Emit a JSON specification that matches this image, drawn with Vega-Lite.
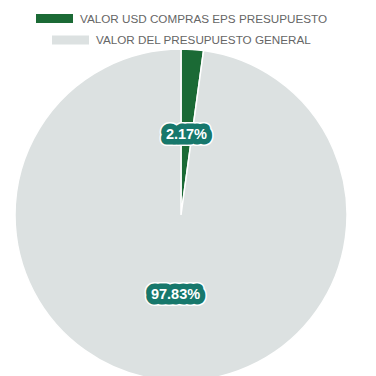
{
  "$schema": "https://vega.github.io/schema/vega-lite/v6.json",
  "autosize": "none",
  "width": 362,
  "height": 322,
  "padding": {"top": 54, "left": 0, "right": 14, "bottom": 0},
  "background": "white",
  "config": {
    "view": {"stroke": null},
    "legend": {
      "title": null,
      "padding": 0,
      "symbolType": "M-1,-0.24H1V0.24H-1Z",
      "symbolSize": 1369,
      "symbolStrokeWidth": 0,
      "symbolOpacity": 1,
      "labelOffset": 7,
      "labelFont": "Liberation Sans",
      "labelFontSize": 11.7,
      "labelColor": "#666666",
      "labelLimit": 400
    }
  },
  "data": {
    "values": [
      {"categoria": "VALOR USD COMPRAS EPS PRESUPUESTO", "valor": 0.0217, "orden": 1},
      {"categoria": "VALOR DEL PRESUPUESTO GENERAL", "valor": 0.9783, "orden": 2}
    ]
  },
  "layer": [
    {
      "mark": {"type": "arc", "outerRadius": 166, "stroke": "white", "strokeWidth": 1.5},
      "encoding": {
        "theta": {"field": "valor", "type": "quantitative", "stack": true},
        "order": {"field": "orden", "type": "quantitative"},
        "color": {
          "field": "categoria", "type": "nominal",
          "scale": {"domain": ["VALOR USD COMPRAS EPS PRESUPUESTO", "VALOR DEL PRESUPUESTO GENERAL"], "range": ["#1b6a35", "#dce1e1"]},
          "legend": {"values": ["VALOR USD COMPRAS EPS PRESUPUESTO"], "orient": "none", "legendX": 36, "legendY": -54}
        }
      }
    },
    {
      "mark": {"type": "arc", "outerRadius": 166, "stroke": "white", "strokeWidth": 1.5},
      "encoding": {
        "theta": {"field": "valor", "type": "quantitative", "stack": true},
        "order": {"field": "orden", "type": "quantitative"},
        "color": {
          "field": "categoria", "type": "nominal",
          "scale": {"domain": ["VALOR USD COMPRAS EPS PRESUPUESTO", "VALOR DEL PRESUPUESTO GENERAL"], "range": ["#1b6a35", "#dce1e1"]},
          "legend": {"values": ["VALOR DEL PRESUPUESTO GENERAL"], "orient": "none", "legendX": 52, "legendY": -32.5}
        }
      }
    },
    {
      "mark": {"type": "text", "radius": 80, "font": "Liberation Sans", "fontWeight": "bold", "fontSize": 14.5, "fill": "white", "stroke": "white", "strokeWidth": 14, "strokeJoin": "round", "baseline": "middle", "align": "center"},
      "encoding": {
        "theta": {"field": "valor", "type": "quantitative", "stack": true},
        "order": {"field": "orden", "type": "quantitative"},
        "text": {"field": "valor", "type": "quantitative", "format": ".2%"}
      }
    },
    {
      "mark": {"type": "text", "radius": 80, "font": "Liberation Sans", "fontWeight": "bold", "fontSize": 14.5, "fill": "#17786c", "stroke": "#17786c", "strokeWidth": 11, "strokeJoin": "round", "baseline": "middle", "align": "center"},
      "encoding": {
        "theta": {"field": "valor", "type": "quantitative", "stack": true},
        "order": {"field": "orden", "type": "quantitative"},
        "text": {"field": "valor", "type": "quantitative", "format": ".2%"}
      }
    },
    {
      "mark": {"type": "text", "radius": 80, "font": "Liberation Sans", "fontWeight": "bold", "fontSize": 14.5, "fill": "white", "baseline": "middle", "align": "center"},
      "encoding": {
        "theta": {"field": "valor", "type": "quantitative", "stack": true},
        "order": {"field": "orden", "type": "quantitative"},
        "text": {"field": "valor", "type": "quantitative", "format": ".2%"}
      }
    }
  ],
  "resolve": {"scale": {"color": "independent"}, "legend": {"color": "independent"}}
}
